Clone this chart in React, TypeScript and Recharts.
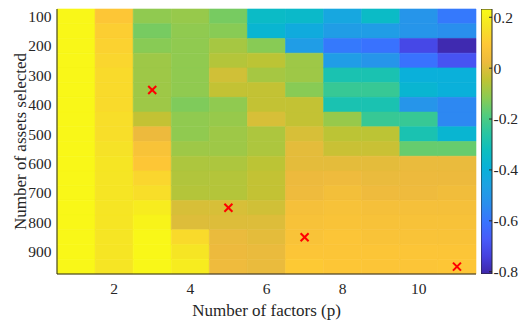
import React from 'react';
import { ComposedChart, BarChart, Bar, XAxis, YAxis, ReferenceArea, Scatter } from 'recharts';

// heatmap grid: rows = number of assets, columns = number of factors
const factors = [1, 2, 3, 4, 5, 6, 7, 8, 9, 10, 11];
const assetCounts = [100, 150, 200, 250, 300, 350, 400, 450, 500, 550, 600, 650, 700, 750, 800, 850, 900, 950];

// one list per factor count, values top (100) to bottom (950)
const p1 = [0.22, 0.22, 0.22, 0.22, 0.22, 0.22, 0.22, 0.22, 0.22, 0.22, 0.22, 0.22, 0.22, 0.22, 0.22, 0.22, 0.22, 0.22];
const p2 = [0.09, 0.11, 0.12, 0.13, 0.14, 0.14, 0.14, 0.15, 0.15, 0.16, 0.17, 0.17, 0.17, 0.17, 0.17, 0.17, 0.17, 0.17];
const p3 = [-0.11, -0.14, -0.12, -0.09, -0.09, -0.09, -0.09, -0.04, 0.025, 0.07, 0.09, 0.13, 0.15, 0.19, 0.21, 0.22, 0.22, 0.22];
const p4 = [-0.1, -0.11, -0.11, -0.11, -0.11, -0.11, -0.13, -0.11, -0.11, -0.09, -0.07, -0.065, -0.06, -0.01, 0.0, 0.14, 0.17, 0.19];
const p5 = [-0.14, -0.12, -0.08, -0.06, -0.02, -0.04, -0.11, -0.1, -0.09, -0.09, -0.07, -0.06, -0.06, -0.01, 0.0, 0.02, 0.025, 0.03];
const p6 = [-0.34, -0.37, -0.12, -0.05, -0.08, -0.04, -0.04, -0.01, -0.07, -0.07, -0.05, -0.04, -0.04, -0.02, 0.0, 0.01, 0.02, 0.02];
const p7 = [-0.35, -0.42, -0.48, -0.09, -0.09, -0.12, -0.04, -0.04, -0.01, 0.01, 0.01, 0.025, 0.03, 0.055, 0.065, 0.075, 0.085, 0.1];
const p8 = [-0.44, -0.48, -0.59, -0.48, -0.29, -0.23, -0.29, -0.1, -0.05, -0.03, 0.01, 0.03, 0.05, 0.065, 0.075, 0.085, 0.085, 0.09];
const p9 = [-0.34, -0.48, -0.61, -0.51, -0.29, -0.23, -0.29, -0.23, -0.05, -0.03, 0.01, 0.02, 0.03, 0.055, 0.065, 0.075, 0.085, 0.085];
const p10 = [-0.51, -0.51, -0.72, -0.61, -0.4, -0.37, -0.51, -0.23, -0.29, -0.16, 0.02, 0.025, 0.03, 0.055, 0.065, 0.075, 0.085, 0.085];
const p11 = [-0.59, -0.53, -0.8, -0.69, -0.4, -0.4, -0.55, -0.55, -0.37, -0.16, 0.02, 0.025, 0.04, 0.055, 0.065, 0.075, 0.085, 0.09];
const valuesByFactor = [p1, p2, p3, p4, p5, p6, p7, p8, p9, p10, p11];

// red crosses (best p per asset count)
const optima = [
  { p: 3, n: 350 },
  { p: 5, n: 750 },
  { p: 7, n: 850 },
  { p: 11, n: 950 },
];

const xTicks = [2, 4, 6, 8, 10];
const yTicks = [100, 200, 300, 400, 500, 600, 700, 800, 900];
const cbTicks = [-0.8, -0.6, -0.4, -0.2, 0, 0.2];
const cLim = [-0.809, 0.2325];

// parula-like colormap anchors
const parula: number[][] = [
  [0.2422, 0.1504, 0.6603],
  [0.272, 0.253, 0.876],
  [0.281, 0.356, 0.98],
  [0.216, 0.46, 0.997],
  [0.162, 0.56, 0.93],
  [0.115, 0.635, 0.89],
  [0.03, 0.695, 0.85],
  [0.05, 0.745, 0.75],
  [0.16, 0.775, 0.63],
  [0.32, 0.8, 0.49],
  [0.55, 0.795, 0.32],
  [0.75, 0.765, 0.2],
  [0.93, 0.73, 0.24],
  [0.995, 0.78, 0.21],
  [0.965, 0.89, 0.15],
  [0.9769, 0.9839, 0.0805],
];

const toRgb = (c: number[]) =>
  `rgb(${Math.round(c[0] * 255)},${Math.round(c[1] * 255)},${Math.round(c[2] * 255)})`;

function mapColor(t: number) {
  const c = Math.max(0, Math.min(1, t)) * (parula.length - 1);
  const i = Math.min(parula.length - 2, Math.floor(c));
  const f = c - i;
  return toRgb(parula[i].map((a, k) => a + (parula[i + 1][k] - a) * f));
}

const valueColor = (v: number) => mapColor((v - cLim[0]) / (cLim[1] - cLim[0]));

const font = '"Liberation Serif", "Times New Roman", serif';
const ink = '#262626';
const W = 526;
const H = 320;
const plotMargin = { top: 9, right: 50, bottom: 0, left: 0 };

// tick label renderer so the serif font is applied for sure
const makeTick = (dy: string) => (props: any) => (
  <text
    x={props.x}
    y={props.y}
    dy={dy}
    textAnchor={props.textAnchor}
    fill={ink}
    style={{ fontFamily: font, fontSize: 15.5 }}
  >
    {props.payload.value}
  </text>
);

const RedCross = (props: any) => {
  const { cx, cy } = props;
  const s = 4;
  return (
    <g stroke="#ff0000" strokeWidth={2}>
      <line x1={cx - s} y1={cy - s} x2={cx + s} y2={cy + s} />
      <line x1={cx - s} y1={cy + s} x2={cx + s} y2={cy - s} />
    </g>
  );
};

const ColorBarShape = (props: any) => {
  const { x, y, width, height } = props;
  return (
    <g>
      <defs>
        <linearGradient id="parulaBar" x1="0" y1="1" x2="0" y2="0">
          {parula.map((c, i) => (
            <stop key={i} offset={i / (parula.length - 1)} stopColor={toRgb(c)} />
          ))}
        </linearGradient>
      </defs>
      <rect x={x} y={y} width={width} height={height} fill="url(#parulaBar)" stroke={ink} strokeWidth={1} />
    </g>
  );
};

export default function App() {
  const cells = factors.flatMap((p, i) =>
    assetCounts.map((n, j) => ({ p, n, v: valuesByFactor[i][j] }))
  );
  const barData = [{ name: 'c', range: cLim }];

  return (
    <div style={{ position: 'absolute', left: 0, top: 0, width: W, height: H, fontFamily: font }}>
      {/* heatmap cells + text */}
      <div style={{ position: 'absolute', left: 0, top: 0 }}>
        <ComposedChart width={W} height={H} margin={plotMargin} data={optima}>
          {cells.map((c) => {
            const col = valueColor(c.v);
            return (
              <ReferenceArea
                key={`${c.p}-${c.n}`}
                x1={c.p - 0.5}
                x2={c.p + 0.5}
                y1={c.n - 25}
                y2={c.n + 25}
                fill={col}
                fillOpacity={1}
                stroke={col}
                strokeWidth={0.6}
                ifOverflow="visible"
              />
            );
          })}
          <XAxis
            dataKey="p"
            type="number"
            domain={[0.5, 11.5]}
            ticks={xTicks}
            height={46}
            tickSize={-4}
            tickMargin={13}
            tickLine={false}
            axisLine={false}
            tick={makeTick('0.71em')}
            label={{
              value: 'Number of factors (p)',
              position: 'insideBottom',
              offset: 4,
              style: { fontFamily: font, fontSize: 17, fill: ink },
            }}
          />
          <YAxis
            dataKey="n"
            type="number"
            domain={[75, 975]}
            reversed
            ticks={yTicks}
            width={57}
            tickSize={-4}
            tickMargin={9.5}
            tickLine={false}
            axisLine={false}
            tick={makeTick('0.35em')}
            label={{
              value: 'Number of assets selected',
              angle: -90,
              position: 'insideLeft',
              offset: 19.5,
              style: { fontFamily: font, fontSize: 17, fill: ink, textAnchor: 'middle' },
            }}
          />
          <YAxis yAxisId="right" orientation="right" type="number" domain={[75, 975]} width={0} hide />
        </ComposedChart>
      </div>
      {/* frame, inward ticks and markers on top */}
      <div style={{ position: 'absolute', left: 0, top: 0 }}>
        <ComposedChart width={W} height={H} margin={plotMargin} data={optima}>
          <XAxis
            dataKey="p"
            type="number"
            domain={[0.5, 11.5]}
            ticks={xTicks}
            height={46}
            tickSize={-4}
            tick={false}
            stroke={ink}
          />
          <XAxis
            xAxisId="top"
            orientation="top"
            dataKey="p"
            type="number"
            domain={[0.5, 11.5]}
            ticks={xTicks}
            height={0}
            tickSize={-4}
            tick={false}
            stroke={ink}
          />
          <YAxis
            dataKey="n"
            type="number"
            domain={[75, 975]}
            reversed
            ticks={yTicks}
            width={57}
            tickSize={-4}
            tick={false}
            stroke={ink}
          />
          <YAxis
            yAxisId="right"
            orientation="right"
            dataKey="n"
            type="number"
            domain={[75, 975]}
            reversed
            ticks={yTicks}
            width={0}
            tickSize={-4}
            tick={false}
            stroke={ink}
          />
          <Scatter dataKey="n" shape={RedCross} isAnimationActive={false} />
        </ComposedChart>
      </div>
      {/* colour bar */}
      <div style={{ position: 'absolute', left: 481, top: 0 }}>
        <BarChart
          width={45}
          height={H}
          data={barData}
          margin={{ top: 9, right: 0, bottom: 46, left: 0 }}
          barCategoryGap={0}
        >
          <XAxis dataKey="name" hide />
          <YAxis
            orientation="right"
            type="number"
            domain={cLim}
            allowDataOverflow
            ticks={cbTicks}
            width={34}
            tickSize={-3}
            tickMargin={4.5}
            tick={makeTick('0.35em')}
            stroke={ink}
            axisLine={false}
          />
          <Bar dataKey="range" shape={ColorBarShape} isAnimationActive={false} />
        </BarChart>
      </div>
    </div>
  );
}
